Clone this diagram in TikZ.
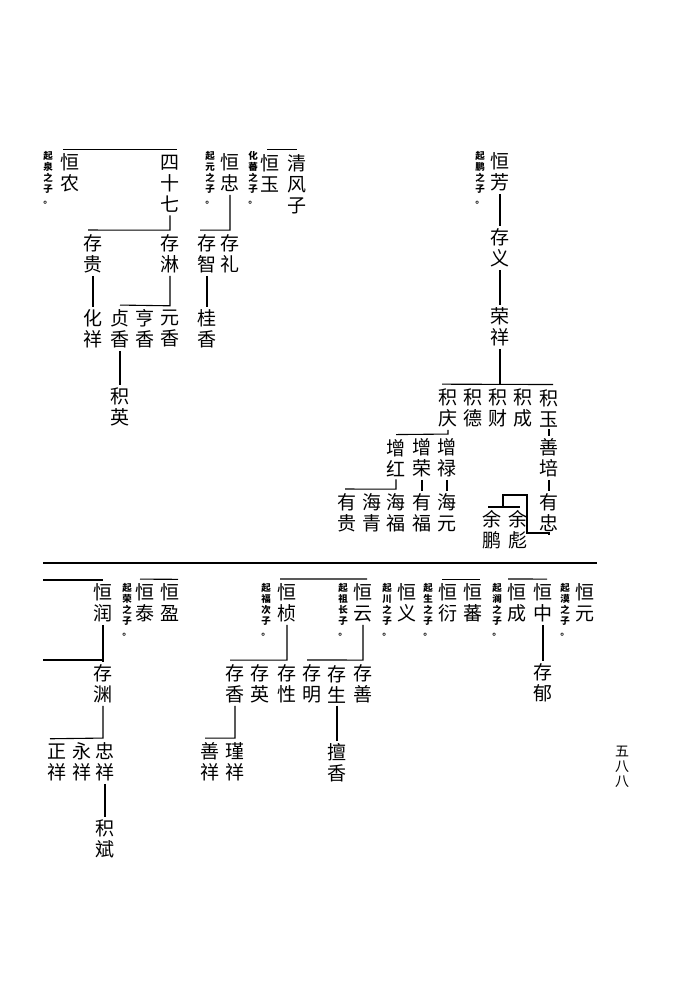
\documentclass[tikz,border=0pt]{standalone}
\usepackage{fontspec}
\newfontfamily\cjk{Noto Sans CJK SC}
\tikzset{
  nm/.style={font=\cjk\fontsize{19}{21}\selectfont, align=center, inner xsep=1pt, inner ysep=2.5pt},
  ann/.style={font=\cjk\bfseries\fontsize{9.5}{11}\selectfont, align=center, inner sep=0pt},
  pg/.style={font=\cjk\fontsize{14}{15}\selectfont, align=center, inner sep=0pt},
  ln/.style={line width=1.1pt},
}
\begin{document}
\begin{tikzpicture}[x=1pt,y=-1pt]
\useasboundingbox[fill=white] (0,0) rectangle (674,1007);

% ---------- top left ----------
\node[nm] (hn) at (70,173) {恒\\农};
\node[ann] (a1) at (48,178) {起\\泉\\之\\子\\。};
\node[nm] (ssq) at (170,184) {四\\十\\七};
\node[nm] (cg) at (93,254) {存\\贵};
\node[nm] (cl) at (170,254) {存\\淋};
\node[nm] (hx) at (93,329) {化\\祥};
\node[nm] (zx) at (120,329) {贞\\香};
\node[nm] (hxx) at (145,329) {亨\\香};
\node[nm] (yx) at (170,329) {元\\香};
\node[nm] (jy) at (120,407) {积\\英};

\node[nm] (qfz) at (297,184) {清\\风\\子};
\node[nm] (hy) at (270,173) {恒\\玉};
\node[ann] (a2) at (253,178) {化\\蕃\\之\\子\\。};
\node[nm] (hz) at (230,173) {恒\\忠};
\node[ann] (a3) at (210,178) {起\\元\\之\\子\\。};
\node[nm] (cz) at (207,254) {存\\智};
\node[nm] (cli) at (230,254) {存\\礼};
\node[nm] (gx) at (207,329) {桂\\香};

\draw[ln] ([xshift=-7pt,yshift=2pt]hn.north) -- ([xshift=7pt,yshift=2pt]ssq.north |- hn.north);
\draw[ln] (ssq.south) -- ([yshift=2pt]ssq.south |- cl.north) -- ([xshift=-5pt,yshift=2pt]cg.north);
\draw[ln] (cg.south) -- (hx.north);
\draw[ln] (cl.south) -- ([yshift=2pt]cl.south |- yx.north) -- ([yshift=2pt]zx.north);
\draw[ln] (zx.south) -- (jy.north);
\draw[ln] ([xshift=-3pt,yshift=2pt]hy.north) -- ([yshift=2pt]qfz.north |- hy.north);
\draw[ln] (hz.south) -- ([yshift=2pt]hz.south |- cli.north) -- ([xshift=-7pt,yshift=2pt]cz.north);
\draw[ln] (cz.south) -- (gx.north);

% ---------- top right ----------
\node[nm] (hf) at (500,172) {恒\\芳};
\node[ann] (a4) at (480,178) {起\\鹏\\之\\子\\。};
\node[nm] (cy) at (500,248) {存\\义};
\node[nm] (rx) at (500,327) {荣\\祥};
\node[nm] (jq) at (448,408) {积\\庆};
\node[nm] (jd) at (473,408) {积\\德};
\node[nm] (jc) at (498,408) {积\\财};
\node[nm] (jcc) at (523,408) {积\\成};
\node[nm] (jyu) at (549,408) {积\\玉};
\node[nm] (zh) at (396,458) {增\\红};
\node[nm] (zr) at (422,458) {增\\荣};
\node[nm] (zl) at (447,458) {增\\禄};
\node[nm] (sp) at (549,458) {善\\培};
\node[nm] (yg) at (347,513) {有\\贵};
\node[nm] (hq) at (372,513) {海\\青};
\node[nm] (hff) at (396,513) {海\\福};
\node[nm] (yf) at (422,513) {有\\福};
\node[nm] (hyy2) at (447,513) {海\\元};
\node[nm] (yz) at (549,513) {有\\忠};
\node[nm] (yp) at (492,530) {余\\鹏};
\node[nm] (yb) at (518,530) {余\\彪};

\draw[ln] (hf.south) -- (cy.north);
\draw[ln] (cy.south) -- (rx.north);
\draw[ln] (rx.south) -- ([yshift=2pt]rx.south |- jc.north);
\draw[ln] ([xshift=-6pt,yshift=2pt]jq.north) -- ([xshift=4pt,yshift=2pt]jyu.north);
\draw[ln] (jq.south) -- ([yshift=2pt]jq.south |- zl.north) -- ([yshift=2pt]zh.north);
\draw[ln] (zh.south) -- ([yshift=2pt]zh.south |- hff.north) -- ([xshift=-2pt,yshift=2pt]yg.north);
\draw[ln] (zr.south) -- (yf.north);
\draw[ln] (zl.south) -- (hyy2.north);
\draw[ln] (jyu.south) -- (sp.north);
\draw[ln] (sp.south) -- (yz.north);
\coordinate (k1) at (527,533);
\coordinate (k2) at (503,495);
\coordinate (k3) at (503,507);
\draw[ln] (yz.south) |- (k1) |- (k2) -- (k3);
\draw[ln] ([xshift=-4pt]yp.north |- k3) -- ([xshift=2pt]yb.north |- k3);

% ---------- separator ----------
\coordinate (s1) at (43,563);
\coordinate (s2) at (597,563);
\draw[line width=2.4pt] (s1) -- (s2);

% ---------- bottom ----------
\node[nm] (hr) at (103,603) {恒\\润};
\node[ann] (b1) at (127,610) {起\\荣\\之\\子\\。};
\node[nm] (ht) at (145,603) {恒\\泰};
\node[nm] (hyi) at (170,603) {恒\\盈};
\node[nm] (hzh) at (287,603) {恒\\桢};
\node[ann] (b2) at (266,610) {起\\福\\次\\子\\。};
\node[nm] (hyun) at (363,603) {恒\\云};
\node[ann] (b3) at (343,610) {起\\祖\\长\\子\\。};
\node[nm] (hyy) at (407,603) {恒\\义};
\node[ann] (b4) at (387,610) {起\\川\\之\\子\\。};
\node[nm] (hyan) at (448,603) {恒\\衍};
\node[ann] (b5) at (428,610) {起\\生\\之\\子\\。};
\node[nm] (hfan) at (473,603) {恒\\蕃};
\node[nm] (hch) at (517,603) {恒\\成};
\node[ann] (b6) at (497,610) {起\\澜\\之\\子\\。};
\node[nm] (hzz) at (543,603) {恒\\中};
\node[nm] (hyuan) at (585,603) {恒\\元};
\node[ann] (b7) at (565,610) {起\\漠\\之\\子\\。};

\node[nm] (cyu) at (103,684) {存\\渊};
\node[nm] (zx2) at (57,762) {正\\祥};
\node[nm] (yx2) at (82,762) {永\\祥};
\node[nm] (zxx) at (105,762) {忠\\祥};
\node[nm] (jb) at (105,839) {积\\斌};
\node[nm] (cx) at (235,684) {存\\香};
\node[nm] (cyi) at (260,684) {存\\英};
\node[nm] (cxi) at (287,684) {存\\性};
\node[nm] (sx) at (210,762) {善\\祥};
\node[nm] (jx) at (235,762) {瑾\\祥};
\node[nm] (cm) at (312,684) {存\\明};
\node[nm] (cs) at (337,684) {存\\生};
\node[nm] (csh) at (363,684) {存\\善};
\node[nm] (sxx) at (337,763) {擅\\香};
\node[nm] (cyy) at (543,683) {存\\郁};

\node[pg] (pn) at (622,767) {五\\八\\八};

\coordinate (l1) at (43,580);
\coordinate (l2) at (43,660);
\draw[ln] (l1) -- (l1 -| hr.north);
\draw[ln] (hr.south) -- (cyu.north);
\draw[ln] (l2) -- (l2 -| cyu.north);
\draw[ln] (cyu.south) -- ([yshift=2pt]cyu.south |- zxx.north) -- ([xshift=-7pt,yshift=2pt]zx2.north);
\draw[ln] (zxx.south) -- (jb.north);
\draw[ln] ([xshift=-5pt,yshift=2pt]ht.north) -- ([xshift=8pt,yshift=2pt]hyi.north);
\draw[ln] ([xshift=-7pt,yshift=2pt]hzh.north) -- ([xshift=4pt,yshift=2pt]hyun.north);
\draw[ln] (hzh.south) -- ([yshift=2pt]hzh.south |- cxi.north) -- ([xshift=-5pt,yshift=2pt]cx.north);
\draw[ln] (cx.south) -- ([yshift=2pt]cx.south |- jx.north) -- ([xshift=-5pt,yshift=2pt]sx.north);
\draw[ln] (hyun.south) -- ([yshift=2pt]hyun.south |- csh.north) -- ([xshift=-5pt,yshift=2pt]cm.north);
\draw[ln] (cs.south) -- (sxx.north);
\draw[ln] ([xshift=-6pt,yshift=2pt]hyan.north) -- ([xshift=7pt,yshift=2pt]hfan.north);
\draw[ln] ([xshift=-9pt,yshift=2pt]hch.north) -- ([xshift=4pt,yshift=2pt]hzz.north);
\draw[ln] (hzz.south) -- (cyy.north);
\end{tikzpicture}
\end{document}
